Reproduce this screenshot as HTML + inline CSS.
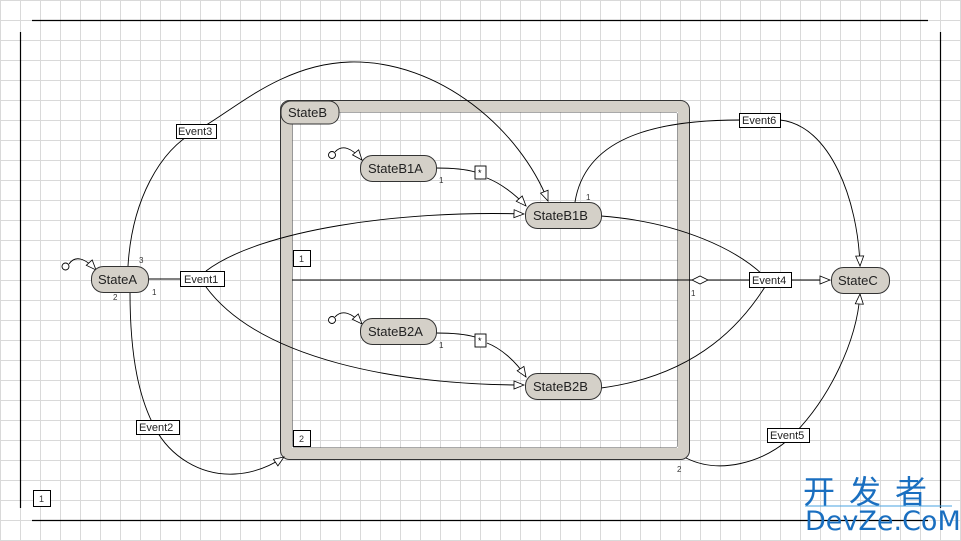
<!DOCTYPE html>
<html><head><meta charset="utf-8"><style>
html,body{margin:0;padding:0;background:#fff;}
svg{display:block;font-family:"Liberation Sans",Arial,sans-serif;}
</style></head><body>
<svg width="961" height="541" viewBox="0 0 961 541" xmlns="http://www.w3.org/2000/svg">
<defs>
<pattern id="g" width="20" height="20" patternUnits="userSpaceOnUse">
<path d="M0 0.5H20M0.5 0V20" stroke="#d9d9d9" stroke-width="1" fill="none"/>
</pattern>
<marker id="a" markerWidth="12" markerHeight="10" refX="11" refY="5" orient="auto" markerUnits="userSpaceOnUse">
<path d="M1,1 L11,5 L1,9 Z" fill="#fff" stroke="#000" stroke-width="0.8"/>
</marker>
</defs>
<rect width="961" height="541" fill="url(#g)"/>
<g stroke="#000" stroke-width="1.2">
<line x1="32" y1="20.5" x2="928" y2="20.5"/>
<line x1="20.5" y1="32" x2="20.5" y2="508"/>
<line x1="32" y1="520.5" x2="928" y2="520.5"/>
<line x1="940.5" y1="32" x2="940.5" y2="508"/>
</g>
<rect x="33.5" y="490.5" width="17" height="16" fill="#fff" stroke="#000"/>
<text x="39" y="502" font-size="9" fill="#333">1</text>

<rect x="286" y="106" width="398" height="348" rx="6" fill="none" stroke="#d4d0c8" stroke-width="12"/>
<rect x="280.5" y="100.5" width="409" height="359" rx="9" fill="none" stroke="#333" stroke-width="1"/>
<rect x="292.5" y="112.5" width="385" height="335" rx="2" fill="none" stroke="#555" stroke-width="0.6"/>
<rect x="281" y="101" width="58" height="23" rx="10" fill="#d4d0c8" stroke="#333"/>
<text x="288" y="117" font-size="13" fill="#222">StateB</text>
<rect x="293.5" y="250.5" width="17" height="16" fill="#fff" stroke="#000"/>
<text x="299" y="262" font-size="9" fill="#333">1</text>
<rect x="293.5" y="430.5" width="17" height="16" fill="#fff" stroke="#000"/>
<text x="299" y="442" font-size="9" fill="#333">2</text>

<g fill="none" stroke="#000" stroke-width="0.9">
<path d="M128,266 C 132,200 160,150 196,131 C 232,112 280,64 350,62 C 440,60 520,130 548,201" marker-end="url(#a)"/>
<path d="M130,292 C 130,360 140,400 155,428 C 170,456 200,476 235,474 C 255,473 272,465 284,457" marker-end="url(#a)"/>
<path d="M148,279 L180,279"/>
<path d="M206,271 C 260,230 400,210 524,214" marker-end="url(#a)"/>
<path d="M206,287 C 260,360 400,385 524,385" marker-end="url(#a)"/>
<path d="M292,280 L692,280"/>
<path d="M708,280 L749,280"/>
<path d="M791,280 L830,280" marker-end="url(#a)"/>
<path d="M601,216 C 680,222 740,250 768,280"/>
<path d="M601,388 C 700,375 745,320 768,282"/>
<path d="M575,202 C 585,140 650,120 740,120 M780,120 C 830,125 858,200 860,266" marker-end="url(#a)"/>
<path d="M686,458 C 720,475 762,462 788,440 C 830,400 857,340 860,294" marker-end="url(#a)"/>
<path d="M69,264 C 75,255 85,258 96,270" marker-end="url(#a)"/>
<path d="M335,152 C 342,144 352,148 362,160" marker-end="url(#a)"/>
<path d="M335,317 C 342,309 352,313 362,324" marker-end="url(#a)"/>
<path d="M436,168 C 450,168 465,169 475,172"/>
<path d="M487,178 C 500,183 515,194 526,206" marker-end="url(#a)"/>
<path d="M436,333 C 450,333 465,334 475,337"/>
<path d="M487,343 C 500,348 515,360 526,377" marker-end="url(#a)"/>
</g>
<path d="M692,280 L700,276 L708,280 L700,284 Z" fill="#fff" stroke="#000" stroke-width="0.8"/>
<g fill="#fff" stroke="#000" stroke-width="0.9">
<circle cx="65.5" cy="266.5" r="3.5"/>
<circle cx="332" cy="155" r="3.5"/>
<circle cx="332" cy="320" r="3.5"/>
<rect x="475" y="166" width="11" height="13"/>
<rect x="475" y="334" width="11" height="13"/>
</g>
<text x="478" y="176" font-size="9">*</text>
<text x="478" y="344" font-size="9">*</text>

<g fill="#d4d0c8" stroke="#333" stroke-width="1">
<rect x="91.5" y="266.5" width="57" height="26" rx="12"/>
<rect x="360.5" y="155.5" width="76" height="26" rx="12"/>
<rect x="525.5" y="202.5" width="76" height="26" rx="12"/>
<rect x="360.5" y="318.5" width="76" height="26" rx="12"/>
<rect x="525.5" y="373.5" width="76" height="26" rx="12"/>
<rect x="831.5" y="267.5" width="58" height="26" rx="12"/>
</g>
<g font-size="13" fill="#222">
<text x="98" y="284">StateA</text>
<text x="368" y="173">StateB1A</text>
<text x="533" y="220">StateB1B</text>
<text x="368" y="336">StateB2A</text>
<text x="533" y="391">StateB2B</text>
<text x="838" y="285">StateC</text>
</g>

<g fill="#fff" stroke="#000" stroke-width="1">
<rect x="180.5" y="271.5" width="44" height="15"/>
<rect x="176.5" y="124.5" width="40" height="14"/>
<rect x="136.5" y="420.5" width="43" height="14"/>
<rect x="749.5" y="272.5" width="42" height="15"/>
<rect x="767.5" y="428.5" width="42" height="14"/>
<rect x="739.5" y="113.5" width="41" height="14"/>
</g>
<g font-size="11" fill="#222">
<text x="184" y="283">Event1</text>
<text x="178" y="135">Event3</text>
<text x="139" y="431">Event2</text>
<text x="752" y="284">Event4</text>
<text x="770" y="439">Event5</text>
<text x="742" y="124">Event6</text>
</g>
<g font-size="8" fill="#333">
<text x="139" y="263">3</text>
<text x="113" y="300">2</text>
<text x="152" y="295">1</text>
<text x="439" y="183">1</text>
<text x="586" y="200">1</text>
<text x="439" y="348">1</text>
<text x="691" y="296">1</text>
<text x="677" y="472">2</text>
</g>

<text x="803" y="503" font-size="32" fill="#1a6fc0" font-family="'Noto Sans CJK SC',sans-serif" letter-spacing="14">开发者</text>
<line x1="805" y1="506" x2="952" y2="506" stroke="#4aa3e0" stroke-width="1"/>
<text x="805" y="530" font-size="27" fill="#1a6fc0" font-family="'DejaVu Sans',sans-serif">DevZe.CoM</text>
</svg>
</body></html>
